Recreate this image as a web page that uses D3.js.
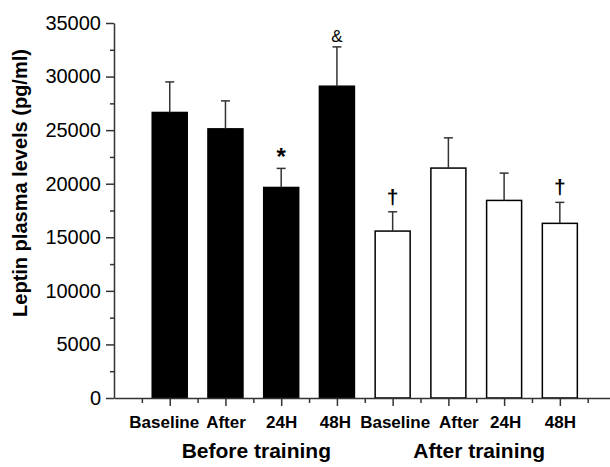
<!DOCTYPE html>
<html>
<head>
<meta charset="utf-8">
<script src="https://cdn.jsdelivr.net/npm/d3@7"></script>
<style>
  body { margin: 0; background: #fff; }
  svg { display: block; font-family: "Liberation Sans", Arial, sans-serif; }
  .axis path, .axis line { stroke: #333; stroke-width: 1.5; }
  .ylab text { font-size: 20px; fill: #000; }
  .xlab text { font-size: 17px; font-weight: bold; fill: #000; }
  .err { stroke: #333; stroke-width: 1.5; fill: none; }
</style>
</head>
<body>
<script>
"use strict";

var width = 610;
var height = 467;

// data
var categories = ["Baseline", "After", "24H", "48H", "Baseline", "After", "24H", "48H"];
var groups = ["Before training", "Before training", "Before training", "Before training",
              "After training", "After training", "After training", "After training"];
var means = [26650, 25120, 19650, 29100, 15580, 21460, 18440, 16300];
var errors = [2850, 2610, 1780, 3670, 1800, 2820, 2550, 1960];
var marks = ["", "", "*", "&", "\u2020", "", "", "\u2020"];
var groupNames = ["Before training", "After training"];
var yTicks = [0, 5000, 10000, 15000, 20000, 25000, 30000, 35000];

var x = d3.scaleLinear().domain([0, 8.9]).range([114, 610]);
var y = d3.scaleLinear().domain([0, 35000]).range([398, 23]);
var barW = 35;

// small nudges so the crowded tick labels don't collide
var labelNudge = [-6, 0, 0, -2, 2, 10, 1, 0];

var svg = d3.select("body").append("svg")
  .attr("width", width)
  .attr("height", height);

// minor ticks
svg.append("g")
  .attr("class", "axis")
  .attr("transform", "translate(114,0)")
  .call(d3.axisLeft(y).tickValues(d3.range(2500, 35000, 5000)).tickSize(4).tickFormat(""))
  .select(".domain").remove();

svg.append("g")
  .attr("class", "axis")
  .attr("transform", "translate(0,398)")
  .call(d3.axisBottom(x).tickValues(d3.range(0.5, 9, 1)).tickSize(5).tickFormat(""))
  .select(".domain").remove();

// bars
svg.selectAll("rect.bar")
  .data(means)
  .enter()
  .append("rect")
  .attr("class", "bar")
  .attr("x", function(d, i) { return x(i + 1) - barW / 2; })
  .attr("y", function(d) { return y(d); })
  .attr("width", barW)
  .attr("height", function(d) { return y(0) - y(d); })
  .attr("fill", function(d, i) { return groups[i] === groupNames[0] ? "#000" : "#fff"; })
  .attr("stroke", "#000")
  .attr("stroke-width", 1.5);

// error bars (upper only)
function drawErrorBars() {
  for (var i = 0; i < means.length; i++) {
    var cx = x(i + 1);
    var capY = y(means[i] + errors[i]);
    svg.append("line")
      .attr("class", "err")
      .attr("x1", cx).attr("x2", cx)
      .attr("y1", y(means[i])).attr("y2", capY);
    svg.append("line")
      .attr("class", "err")
      .attr("x1", cx - 4.5).attr("x2", cx + 4.5)
      .attr("y1", capY).attr("y2", capY);

    if (marks[i]) {
      var isAmp = marks[i] === "&";
      svg.append("text")
        .attr("x", cx)
        .attr("y", capY - (isAmp ? 5 : 8))
        .attr("text-anchor", "middle")
        .attr("font-size", isAmp ? 17 : (marks[i] === "*" ? 24 : 21))
        .attr("font-weight", isAmp ? "normal" : "bold")
        .attr("dy", marks[i] === "*" ? "0.2em" : 0)
        .text(marks[i]);
    }
  }
}
drawErrorBars();

// y axis
svg.append("g")
  .attr("class", "axis ylab")
  .attr("transform", "translate(114,0)")
  .call(d3.axisLeft(y).tickValues(yTicks).tickSize(8).tickPadding(5).tickSizeOuter(0).tickFormat(d3.format("d")));

// x axis
var xAxis = svg.append("g")
  .attr("class", "axis xlab")
  .attr("transform", "translate(0,398)")
  .call(d3.axisBottom(x).tickValues(d3.range(1, 9)).tickSize(8).tickPadding(10).tickSizeOuter(0)
    .tickFormat(function(d) { return categories[d - 1]; }));

xAxis.selectAll(".tick text")
  .attr("dx", function(d) { return labelNudge[d - 1]; });

// group labels
groupNames.forEach(function(g) {
  var idx = [];
  groups.forEach(function(gg, i) { if (gg === g) idx.push(i + 1); });
  svg.append("text")
    .attr("x", x(d3.mean(idx)) + 3)
    .attr("y", 458)
    .attr("text-anchor", "middle")
    .attr("font-size", 21)
    .attr("font-weight", "bold")
    .text(g);
});

// y title
svg.append("text")
  .attr("transform", "translate(27,183) rotate(-90)")
  .attr("text-anchor", "middle")
  .attr("font-size", 20)
  .attr("font-weight", "bold")
  .text("Leptin plasma levels (pg/ml)");
</script>
</body>
</html>
